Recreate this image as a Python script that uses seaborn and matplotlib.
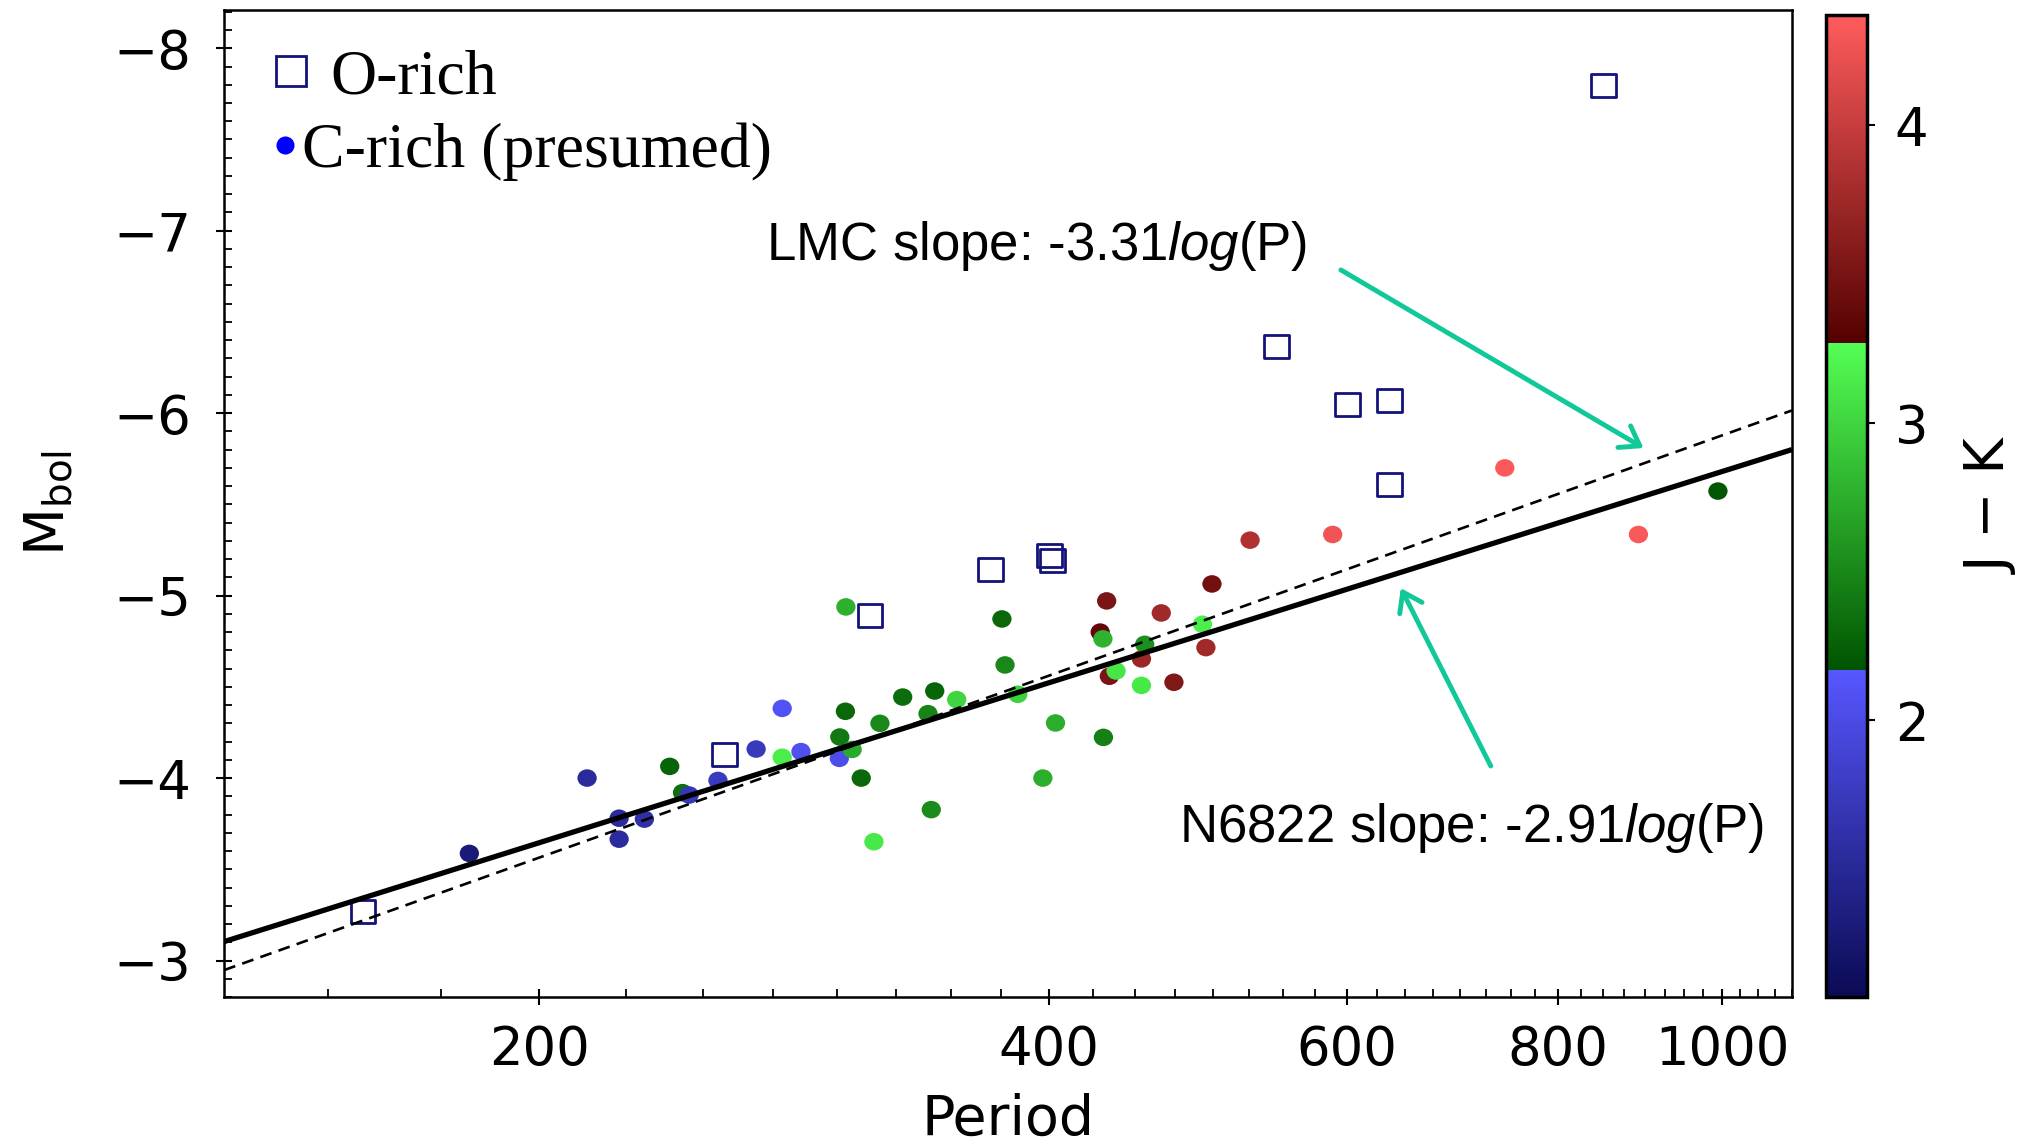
import numpy as np
import pandas as pd
import matplotlib
matplotlib.use("Agg")
import matplotlib.pyplot as plt
import seaborn as sns
from matplotlib import ticker
from matplotlib.colors import LinearSegmentedColormap, Normalize
from matplotlib.path import Path
from matplotlib.lines import Line2D
import matplotlib.cm as cm

# ---------------- data ----------------
# C-rich (presumed) stars: period [d], M_bol, J-K colour (draw order)
c_period = [432.8, 429.0, 434.4, 453.8, 466.2, 474.3, 499.5, 495.4, 526.1, 588.7, 744.1, 892.5,
            243.0,
            181.8, 213.4, 222.9, 222.9, 230.7, 245.2, 255.0, 268.6, 278.3, 285.5, 300.8,
            238.8, 278.3, 303.3, 301.0, 306.1, 309.9, 317.9, 315.3, 303.5, 327.9, 339.4, 342.5,
            340.9, 352.9, 375.3, 376.9, 383.5, 403.7, 396.8, 430.9, 430.6, 438.4, 455.8, 453.8,
            493.1, 994.5]
c_mbol = [-4.971, -4.80, -4.558, -4.653, -4.905, -4.525, -5.064, -4.715, -5.304, -5.335, -5.70, -5.335,
          -3.92,
          -3.587, -4.00, -3.78, -3.665, -3.775, -3.907, -3.987, -4.159, -4.382, -4.145, -4.108,
          -4.064, -4.114, -4.366, -4.225, -4.157, -4.00, -4.30, -3.651, -4.938, -4.444, -4.353, -4.477,
          -3.827, -4.430, -4.872, -4.620, -4.459, -4.302, -4.00, -4.223, -4.763, -4.587, -4.733, -4.508,
          -4.843, -5.573]
c_jk = [3.52, 3.36, 3.52, 3.72, 3.76, 3.56, 3.46, 3.76, 3.86, 4.27, 4.35, 4.33,
        2.35,
        1.30, 1.53, 1.55, 1.55, 1.60, 1.70, 1.76, 1.75, 2.10, 2.07, 2.03,
        2.27, 3.15, 2.30, 2.40, 2.72, 2.30, 2.50, 3.12, 2.76, 2.33, 2.48, 2.28,
        2.52, 3.00, 2.30, 2.50, 2.97, 2.75, 2.75, 2.45, 2.78, 3.10, 2.55, 3.12,
        3.17, 2.20]

# O-rich stars
o_period = [157.3, 257.3, 313.6, 369.5, 400.2, 402.0, 545.3, 600.9, 636.0, 636.0, 851.4]
o_mbol = [-3.27, -4.13, -4.89, -5.145, -5.222, -5.194, -6.368, -6.05, -6.07, -5.61, -7.796]

# period-luminosity relations: M_bol = slope*log(P) + zero
lmc_slope, lmc_zero = -3.31, 4.052
n6822_slope, n6822_zero = -2.91, 3.050

jk_min, jk_max = 1.07, 4.37
x_limits = (130.2, 1100.0)
y_limits = (-2.80, -8.21)
x_major = [200, 400, 600, 800, 1000]
cbar_ticks = [2, 3, 4]

dfc = pd.DataFrame({"Period": c_period, "Mbol": c_mbol, "JK": c_jk})
dfo = pd.DataFrame({"Period": o_period, "Mbol": o_mbol})

# ---------------- style ----------------
sns.set_style("ticks")
plt.rcParams["font.family"] = ["DejaVu Sans"]
plt.rcParams["mathtext.fontset"] = "custom"
plt.rcParams["mathtext.rm"] = "DejaVu Sans"
plt.rcParams["mathtext.it"] = "Liberation Sans:italic"
plt.rcParams["mathtext.bf"] = "DejaVu Sans:bold"
for key in ["text.color", "axes.labelcolor", "xtick.color", "ytick.color", "axes.edgecolor"]:
    plt.rcParams[key] = "black"

# three-segment colormap (blue / green / red)
seg = {
    "red":   [(0.0, 0.04, 0.04), (1/3, 0.34, 0.00), (2/3, 0.33, 0.33), (1.0, 1.00, 1.00)],
    "green": [(0.0, 0.04, 0.04), (1/3, 0.34, 0.33), (2/3, 1.00, 0.00), (1.0, 0.36, 0.36)],
    "blue":  [(0.0, 0.33, 0.33), (1/3, 1.00, 0.00), (2/3, 0.33, 0.00), (1.0, 0.36, 0.36)],
}
cmap = LinearSegmentedColormap("jk_cmap", seg, N=768)
norm = Normalize(vmin=jk_min, vmax=jk_max)

# slightly wide markers (ellipse / rectangle)
uc = Path.unit_circle()
ell_marker = Path(uc.vertices * np.array([1.1, 1.0]), uc.codes)
rect_marker = Path(np.array([[-0.54, -0.5], [0.54, -0.5], [0.54, 0.5], [-0.54, 0.5], [-0.54, -0.5]]),
                   [Path.MOVETO, Path.LINETO, Path.LINETO, Path.LINETO, Path.CLOSEPOLY])

navy = "#12127a"
teal = "#10c898"

fig = plt.figure(figsize=(20.35, 11.44), dpi=100)
fig.patch.set_facecolor("white")
ax = fig.add_axes([0.1101, 0.1285, 0.7705, 0.8628])
cax = fig.add_axes([0.8973, 0.1285, 0.0201, 0.8580])

sns.scatterplot(data=dfc, x="Period", y="Mbol", hue="JK", palette=cmap, hue_norm=norm,
                marker=ell_marker, s=193, linewidth=0, legend=False, ax=ax, zorder=1)
sns.scatterplot(data=dfo, x="Period", y="Mbol", marker=rect_marker, s=320,
                facecolor="none", edgecolor=navy, linewidth=2.0, legend=False, ax=ax, zorder=1.5)

ax.set_xscale("log")
ax.set_xlim(*x_limits)
ax.set_ylim(*y_limits)

pl = np.array(x_limits)
ax.plot(pl, n6822_slope * np.log10(pl) + n6822_zero, color="black", lw=3.8, zorder=3,
        solid_capstyle="butt")
ax.plot(pl, lmc_slope * np.log10(pl) + lmc_zero, color="black", lw=1.9, zorder=3,
        linestyle=(0, (4.5, 2.8)))

# ticks
ax.xaxis.set_major_locator(ticker.FixedLocator(x_major))
ax.xaxis.set_major_formatter(ticker.FormatStrFormatter("%d"))
ax.xaxis.set_minor_locator(ticker.MultipleLocator(25))
ax.xaxis.set_minor_formatter(ticker.NullFormatter())
ax.yaxis.set_major_locator(ticker.MultipleLocator(1))
ax.yaxis.set_minor_locator(ticker.MultipleLocator(0.1))
ax.tick_params(which="major", direction="inout", length=11, width=1.5, labelsize=38,
               top=False, right=False, colors="black")
ax.tick_params(axis="x", which="major", pad=14)
ax.tick_params(axis="y", which="major", pad=18)
ax.tick_params(which="minor", direction="in", length=6, width=1.3, top=False, right=False,
               colors="black")
for sp in ax.spines.values():
    sp.set_linewidth(1.8)
    sp.set_color("black")

ax.set_xlabel("Period", fontsize=40, labelpad=12, color="black")
ax.set_ylabel("M$_{\\mathrm{bol}}$", fontsize=40, labelpad=27, color="black")

# annotations
ax.text(272.4, -6.842, "LMC slope: -3.31$\\mathit{log}$(P)", fontsize=38, color="black",
        family="Liberation Sans", ha="left", va="baseline", zorder=5)
ax.text(477.3, -3.65, "N6822 slope: -2.91$\\mathit{log}$(P)", fontsize=38, color="black",
        family="Liberation Sans", ha="left", va="baseline", zorder=5)
arrow_kw = dict(arrowstyle="->,head_length=0.65,head_width=0.45", color=teal, lw=3.5,
                shrinkA=0, shrinkB=0, mutation_scale=20)
ax.annotate("", xy=(898.7, -5.809), xytext=(595.3, -6.785), arrowprops=arrow_kw, zorder=5)
ax.annotate("", xy=(645.9, -5.041), xytext=(730.0, -4.066), arrowprops=arrow_kw, zorder=5)

# legends
h_o = Line2D([], [], marker="s", markersize=22, markerfacecolor="none", markeredgecolor=navy,
             markeredgewidth=2.0, linestyle="none")
h_c = Line2D([], [], marker="o", markersize=13, markerfacecolor="#0000ff", markeredgewidth=0,
             linestyle="none")
lp = {"family": "Liberation Serif", "size": 46}
leg1 = ax.legend([h_o], ["O-rich"], loc="center left", bbox_to_anchor=(0.0306, 0.9311),
                 frameon=False, prop=lp, handlelength=0.6, handletextpad=0.31,
                 borderpad=0, borderaxespad=0, numpoints=1, labelcolor="black")
ax.add_artist(leg1)
leg2 = ax.legend([h_c], ["C-rich (presumed)"], loc="center left", bbox_to_anchor=(0.0306, 0.8562),
                 frameon=False, prop=lp, handlelength=0.4, handletextpad=0.07,
                 borderpad=0, borderaxespad=0, numpoints=1, labelcolor="black")

# colorbar
sm = cm.ScalarMappable(norm=norm, cmap=cmap)
cb = fig.colorbar(sm, cax=cax)
cb.set_ticks(cbar_ticks)
cb.ax.minorticks_off()
cb.ax.tick_params(direction="inout", length=12, width=1.5, labelsize=38, pad=14, colors="black")
cb.outline.set_linewidth(2.5)
cb.outline.set_edgecolor("black")
cb.set_label("J − K", fontsize=40, labelpad=26, color="black")

fig.savefig("out.png", dpi=100, facecolor="white")
